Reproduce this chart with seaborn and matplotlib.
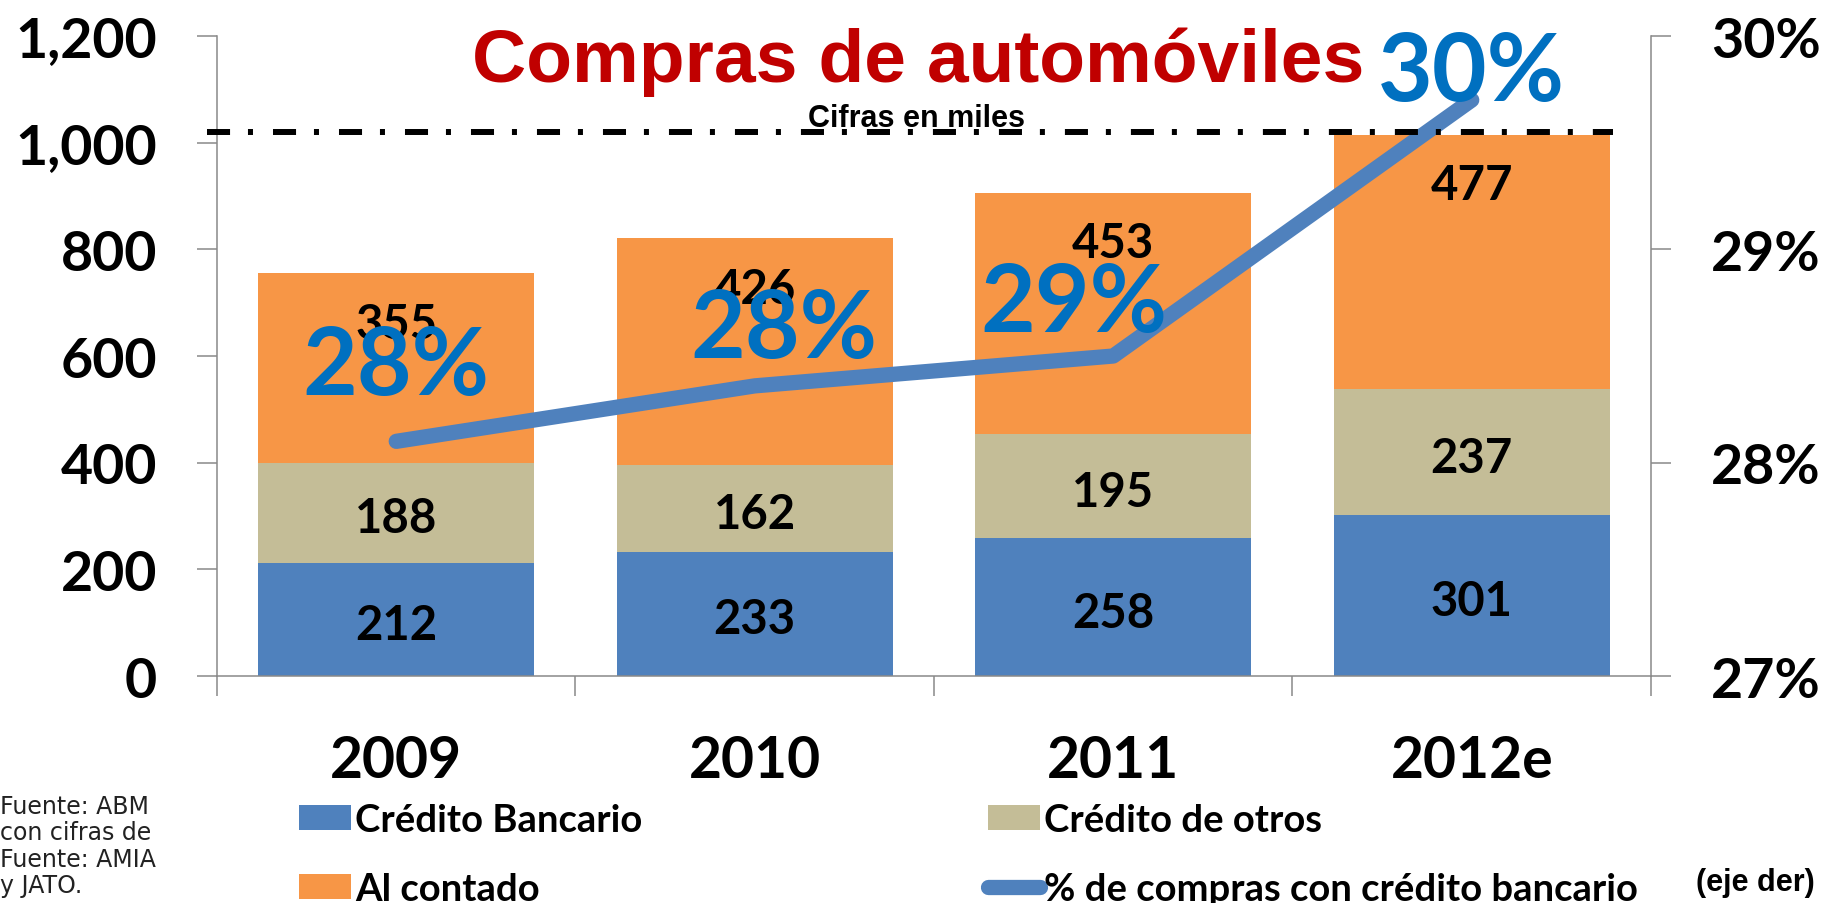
import matplotlib
matplotlib.use("Agg")
import seaborn as sns
import matplotlib.pyplot as plt
from matplotlib.patches import Patch
from matplotlib.lines import Line2D
from matplotlib import transforms
from matplotlib.ticker import FuncFormatter

# Datos (miles de unidades)
years = ["2009", "2010", "2011", "2012e"]
credito_bancario = [212, 233, 258, 301]
credito_otros = [188, 162, 195, 237]
al_contado = [355, 426, 453, 477]
pct_credito = [28.1, 28.36, 28.5, 29.7]
pct_labels = ["28%", "28%", "29%", "30%"]
series_names = ["Crédito Bancario", "Crédito de otros", "Al contado",
                "% de compras con crédito bancario"]

AZUL = "#4F81BD"
BEIGE = "#C4BD97"
NARANJA = "#F79646"
GRIS = "#898989"

sns.set_theme(style="white")
plt.rcParams["font.family"] = ["Lato", "DejaVu Sans"]
plt.rcParams["font.weight"] = "bold"
plt.rcParams["text.color"] = "black"

fig = plt.figure(figsize=(18.25, 9.04), dpi=100)
ax = fig.add_axes([0.1189, 0.2511, 0.78575, 0.70796])

# Barras apiladas
base_otros = credito_bancario
base_contado = [a + b for a, b in zip(credito_bancario, credito_otros)]
sns.barplot(x=years, y=credito_bancario, color=AZUL, saturation=1, width=0.77,
            errorbar=None, linewidth=0, ax=ax)
sns.barplot(x=years, y=credito_otros, bottom=base_otros, color=BEIGE, saturation=1,
            width=0.77, errorbar=None, linewidth=0, ax=ax)
sns.barplot(x=years, y=al_contado, bottom=base_contado, color=NARANJA, saturation=1,
            width=0.77, errorbar=None, linewidth=0, ax=ax)

# Etiquetas de valores
for i in range(len(years)):
    ax.text(i, credito_bancario[i] / 2 - 10, str(credito_bancario[i]),
            ha="center", va="center", fontsize=34, color="black")
    ax.text(i, base_otros[i] + credito_otros[i] / 2 - 10, str(credito_otros[i]),
            ha="center", va="center", fontsize=34, color="black")
    top = base_contado[i] + al_contado[i]
    ax.text(i, top - 95, str(al_contado[i]),
            ha="center", va="center", fontsize=34, color="black")

ax.set_ylim(0, 1200)
ax.set_yticks(range(0, 1201, 200))
ax.yaxis.set_major_formatter(FuncFormatter(lambda v, p: f"{int(v):,}"))
ax.set_xlim(-0.5, 3.5)
ax.set_xticks([-0.5, 0.5, 1.5, 2.5, 3.5])
ax.set_xticklabels([])
ax.set_xticks(range(len(years)), minor=True)
ax.set_xticklabels(years, minor=True)
ax.set_xlabel("")
ax.set_ylabel("")

ax.tick_params(axis="y", direction="out", length=14.4, width=1.1, color=GRIS,
               pad=28.8, labelsize=40, left=True, labelcolor="black")
ax.tick_params(axis="x", which="major", direction="out", length=14.4, width=1.1,
               color=GRIS, bottom=True)
ax.tick_params(axis="x", which="minor", length=0, pad=42, labelsize=41,
               labelcolor="black")

for s in ["top", "right"]:
    ax.spines[s].set_visible(False)
for s in ["left", "bottom"]:
    ax.spines[s].set_color(GRIS)
    ax.spines[s].set_linewidth(1.1)

# Eje derecho: porcentaje con crédito bancario
ax2 = ax.twinx()
sns.lineplot(x=list(range(len(years))), y=pct_credito, color=AZUL, linewidth=11,
             solid_capstyle="round", ax=ax2, zorder=3)
ax2.set_ylim(27, 30)
ax2.set_yticks([27, 28, 29, 30])
ax2.yaxis.set_major_formatter(FuncFormatter(lambda v, p: f"{int(round(v))}%"))
ax2.tick_params(axis="y", direction="out", length=14.4, width=1.1, color=GRIS,
                pad=28.8, labelsize=40, right=True, labelcolor="black")
for s in ["top", "left", "bottom"]:
    ax2.spines[s].set_visible(False)
ax2.spines["right"].set_color(GRIS)
ax2.spines["right"].set_linewidth(1.1)
ax2.set_xlim(-0.5, 3.5)
ax2.set_ylabel("")

# Etiquetas de porcentaje
offsets = [(0, 34), (21, 21), (-28, 18), (0, 0)]
for i, (lab, off) in enumerate(zip(pct_labels, offsets)):
    ax2.annotate(lab, (i, pct_credito[i]), xytext=off, textcoords="offset points",
                 ha="center", va="baseline", fontsize=68, color="#0070C0", zorder=5)

# Linea de referencia punteada
trans = transforms.blended_transform_factory(ax.transAxes, ax.transData)
ax2.add_line(Line2D([-0.007, 0.9735], [1020, 1020], transform=trans, color="black",
                    linewidth=4.3, linestyle=(0, (3.86, 3.0, 0.84, 3.35)),
                    clip_on=False, zorder=4))

# Titulos
fig.text(918 / 1825, 1 - 82 / 904, "Compras de automóviles", ha="center", va="baseline",
         color="#C00000", family="Liberation Sans", weight="bold", fontsize=54)
fig.text(916 / 1825, 1 - 127 / 904, "Cifras en miles", ha="center", va="baseline",
         family="Liberation Sans", weight="bold", fontsize=22, color="black")

# Leyenda
handles = [Patch(facecolor=AZUL, edgecolor="none"),
           Patch(facecolor=NARANJA, edgecolor="none"),
           Patch(facecolor=BEIGE, edgecolor="none"),
           Line2D([0], [0], color=AZUL, linewidth=11, solid_capstyle="round")]
labels = [series_names[0], series_names[2], series_names[1], series_names[3]]
fig.legend(handles, labels, loc="upper left", bbox_to_anchor=(299 / 1825, 1 - 804 / 904),
           ncol=2, frameon=False, prop={"family": "Lato", "weight": "bold", "size": 27.5},
           handlelength=1.37, handleheight=0.63, handletextpad=0.1, columnspacing=9.05,
           labelspacing=0.92, borderpad=0, borderaxespad=0)

fig.text(1815 / 1825, 1 - 883 / 904, "(eje der)", ha="right", va="center",
         family="Liberation Sans", weight="bold", fontsize=22, color="black")

fig.text(0.0, 1 - 795 / 904, "Fuente: ABM\ncon cifras de\nFuente: AMIA\ny JATO.",
         ha="left", va="top", family="DejaVu Sans", weight="normal", fontsize=17,
         linespacing=1.12, color="#222222")

fig.savefig("out.png", dpi=100)
